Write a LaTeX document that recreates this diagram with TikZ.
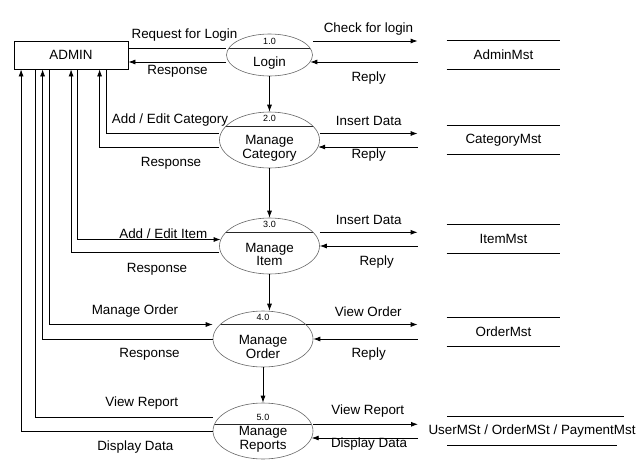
\documentclass[tikz,border=0pt]{standalone}
\usepackage{fontspec}
\setmainfont{Liberation Sans}
\usetikzlibrary{arrows.meta,positioning,shapes.geometric}

\tikzset{
  process/.style={ellipse, draw=black!60, line width=0.6pt, minimum width=100pt, minimum height=56pt, inner sep=0pt,
    path picture={\draw[black!85, line width=0.8pt] ([yshift=-#1]path picture bounding box.north west) -- ([yshift=-#1]path picture bounding box.north east);}},
  process/.default=14pt,
  store/.style={minimum width=113pt, minimum height=28pt, inner sep=0pt},
  num/.style={font=\fontsize{9}{9}\selectfont, inner sep=0pt},
}

\begin{document}
\begin{tikzpicture}[x=1pt, y=-1pt, line width=0.8pt, >={Latex[length=7pt,width=5pt]},
  font=\fontsize{13.4}{13.7}\selectfont, node distance=85pt]
\useasboundingbox (0,0) rectangle (638,466);

\node (admin) [draw, minimum width=114pt, minimum height=28pt] at (71,55) {ADMIN};
\node (login) [process=14.5pt, minimum width=86pt, minimum height=42pt] at (269.5,55) {};
\node (cat)   [process, below of = login]                                    {};
\node (item)  [process, below of = cat, node distance=106pt]                 {};
\node (order) [process=13.5pt, below of = item, node distance=93pt, xshift=-6.5pt] {};
\node (rep)   [process=21pt, below of = order, node distance=92pt]           {};

\node (login-n) [num] at ([yshift=-7.5pt]login.north) {1.0};
\node (login-t)       at ([yshift=-8.3pt]login.center) {Login};
\node (cat-n) [num] at ([yshift=-7pt]cat.north) {2.0};
\node (cat-t) [align=center] at ([yshift=-8.5pt]cat.center) {Manage\\Category};
\node (item-n) [num] at ([yshift=-7pt]item.north) {3.0};
\node (item-t) [align=center] at ([yshift=-8.5pt]item.center) {Manage\\Item};
\node (order-n) [num] at ([yshift=-6.8pt]order.north) {4.0};
\node (order-t) [align=center] at ([yshift=-8.3pt]order.center) {Manage\\Order};
\node (rep-n) [num] at ([yshift=-14.5pt]rep.north) {5.0};
\node (rep-t) [align=center] at ([yshift=-8.5pt]rep.center) {Manage\\Reports};

\node (adminmst) [store, right of = login, node distance=234pt]                 {AdminMst};
\node (catmst)   [store, right of = cat, node distance=234pt]                   {CategoryMst};
\node (itemmst)  [store, right of = item, node distance=234pt, yshift=7pt]      {ItemMst};
\node (ordermst) [store, right of = order, node distance=240.5pt, yshift=7.3pt] {OrderMst};
\node (repmst)   [store, right of = rep, node distance=269pt, minimum width=0pt] {UserMSt / OrderMSt / PaymentMst};

\foreach \s in {adminmst, catmst, itemmst, ordermst}
  \draw (\s.north west) -- (\s.north east) (\s.south west) -- (\s.south east);
\draw ([xshift=-85pt]repmst.north) -- ([xshift=92pt]repmst.north);
\draw ([xshift=-85pt]repmst.south) -- ([xshift=85pt]repmst.south);

% admin side
\draw ([yshift=6.5pt]admin.east) -- ([yshift=6.5pt]login.west);
\draw[->] ([yshift=-7pt]login.west) -- ([yshift=-7pt]admin.east);
\draw ([xshift=92.5pt]admin.south west) |- ([yshift=6.5pt]cat.west);
\draw[->] ([yshift=-7pt]cat.west) -| ([xshift=86pt]admin.south west);
\draw[->] ([xshift=64pt]admin.south west) |- ([xshift=1.4pt,yshift=6.5pt]item.west);
\draw[->] ([yshift=-6.5pt]item.west) -| ([xshift=57.5pt]admin.south west);
\draw[->] ([xshift=36pt]admin.south west) |- ([yshift=14.5pt]order.west);
\draw[->] (order.west) -| ([xshift=29pt]admin.south west);
\draw ([xshift=21.5pt]admin.south west) |- ([yshift=13.7pt]rep.west);
\draw[->] (rep.west) -| ([xshift=7.5pt]admin.south west);

% process chain
\draw[->] (login) -- (cat);
\draw[->] (cat) -- (item);
\draw[->] (item.south) -- (item.south |- order.north);
\draw[->] (order) -- (rep);

% store side
\draw[->] ([yshift=14pt]login.east) -- ([xshift=-29pt,yshift=14pt]adminmst.west);
\draw[->] ([xshift=-29pt,yshift=-7pt]adminmst.west) -- ([xshift=-2.5pt,yshift=-7pt]login.east);
\draw[->] ([yshift=6.5pt]cat.east) -- ([xshift=-29pt,yshift=6.5pt]catmst.west);
\draw[->] ([xshift=-29pt,yshift=-7pt]catmst.west) -- ([xshift=-1.6pt,yshift=-7pt]cat.east);
\draw[->] ([yshift=13.7pt]item.east) -- ([xshift=-29pt,yshift=6.7pt]itemmst.west);
\draw[->] ([xshift=-29pt,yshift=-7pt]itemmst.west) -- (item.east);
\draw[->] ([xshift=-7.2pt,yshift=14.5pt]order.east) -- ([xshift=-29pt,yshift=7.2pt]ordermst.west);
\draw[->] ([xshift=-29pt,yshift=-7.3pt]ordermst.west) -- (order.east);
\draw[->] ([yshift=6.7pt]rep.east) -- ([xshift=-114pt,yshift=6.7pt]repmst.center);
\draw[->] ([xshift=-114pt,yshift=-7pt]repmst.center) -- ([xshift=-1.6pt,yshift=-7pt]rep.east);

% flow labels
\node (l-req)   at (184.5,35.5)  {Request for Login};
\node (l-resp1) at (177.5,71)    {Response};
\node (l-cat)   at (170,120.5)   {Add / Edit Category};
\node (l-resp2) at (171,163)     {Response};
\node (l-item)  at (163.3,233.5) {Add / Edit Item};
\node (l-resp3) at (157,269.5)   {Response};
\node (l-ord)   at (135,311.5)   {Manage Order};
\node (l-resp4) at (149.5,354.5) {Response};
\node (l-view1) at (141.7,403)   {View Report};
\node (l-disp1) at (135.3,447)   {Display Data};

\node (l-check) at (368.5,29)    {Check for login};
\node (l-rep1)  at (368.7,78)    {Reply};
\node (l-ins1)  at (368.7,120.5) {Insert Data};
\node (l-rep2)  at (368.7,155.5) {Reply};
\node (l-ins2)  at (368.7,219.5) {Insert Data};
\node (l-rep3)  at (376.7,262.5) {Reply};
\node (l-vord)  at (368.3,311.5) {View Order};
\node (l-rep4)  at (368.7,354.5) {Reply};
\node (l-view2) at (367.8,411)   {View Report};
\node (l-disp2) at (369,444.5)   {Display Data};
\end{tikzpicture}
\end{document}
